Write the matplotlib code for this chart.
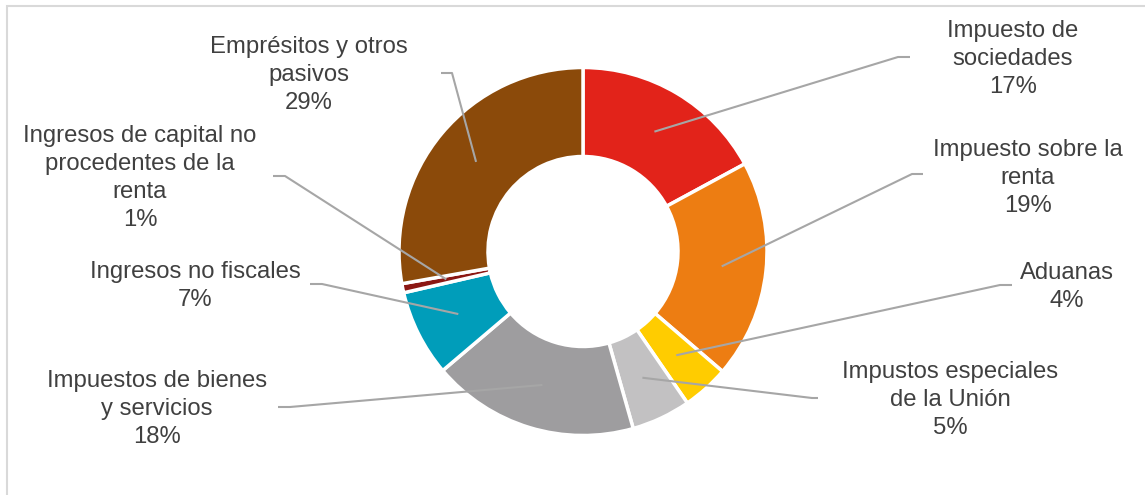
import numpy as np
import matplotlib
matplotlib.use("Agg")
from matplotlib import pyplot as plt
from matplotlib.patches import Rectangle

plt.rcParams['font.family'] = ['Liberation Sans', 'DejaVu Sans']

# datos (cuotas, en %)
categorias = ['Impuesto de\nsociedades', 'Impuesto sobre la\nrenta', 'Aduanas',
              'Impustos especiales\nde la Unión', 'Impuestos de bienes\ny servicios',
              'Ingresos no fiscales', 'Ingresos de capital no\nprocedentes de la\nrenta',
              'Emprésitos y otros\npasivos']
cuotas = [17.1, 19.2, 4.1, 5.2, 18.2, 7.6, 0.8, 27.8]
etiquetas_pct = ['17%', '19%', '4%', '5%', '18%', '7%', '1%', '29%']
colores = ['#E2231A', '#ED7D12', '#FFCC00', '#C2C1C2', '#9E9D9F', '#009DBA', '#8B1713', '#8B4A0A']

# posiciones de texto y codos de las líneas guía (píxeles, y hacia abajo)
pos_texto = [(1013, 59), (1028, 178), (1067, 287), (950, 400),
             (157, 409), (195, 286), (140, 178), (309, 75)]
codos = [[(898, 57), (910, 57)], [(912, 174), (923, 174)], [(1000, 285), (1012, 285)],
         [(812, 398), (818, 398)], [(290, 407), (278, 407)], [(322, 284), (310, 284)],
         [(285, 176), (273, 176)], [(452, 73), (441, 73)]]

W, H = 1145, 495
cx, cy, R, r_in = 583, H - 251.5, 184, 95

fig = plt.figure(figsize=(W / 100, H / 100), dpi=100)
ax = fig.add_axes([0, 0, 1, 1])
ax.set_xlim(0, W)
ax.set_ylim(0, H)
ax.set_aspect('equal')
ax.axis('off')

# marco
ax.add_patch(Rectangle((6.5, -20), W, H - 6 + 20, fill=False, edgecolor='#D9D9D9', lw=1.5))

wedges, _ = ax.pie(cuotas, colors=colores, startangle=90, counterclock=False,
                   center=(cx, cy), radius=R,
                   wedgeprops=dict(width=R - r_in, edgecolor='white', linewidth=2.5))
ax.set_xlim(0, W)
ax.set_ylim(0, H)

r_mid = (R + r_in) / 2
for w, cat, pct, (tx, ty), codo in zip(wedges, categorias, etiquetas_pct, pos_texto, codos):
    ang = np.deg2rad((w.theta1 + w.theta2) / 2)
    ax_x = cx + r_mid * np.cos(ang)
    ax_y = cy + r_mid * np.sin(ang)
    xs = [ax_x] + [p[0] for p in codo]
    ys = [ax_y] + [H - p[1] for p in codo]
    ax.plot(xs, ys, color='#A6A6A6', lw=1.5, solid_capstyle='butt')
    ax.text(tx, H - ty, cat + '\n' + pct, ha='center', va='center', fontsize=17.2,
            color='#404040', linespacing=1.36)

fig.savefig('out.png', dpi=100)
